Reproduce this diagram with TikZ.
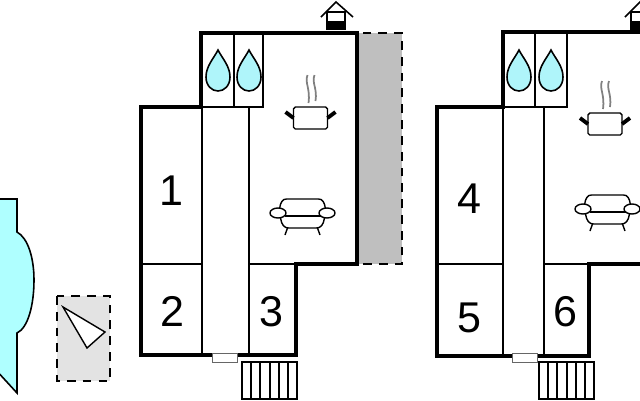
\documentclass[tikz,border=0pt]{standalone}
\usepackage{fontspec}
\setmainfont{Liberation Sans}

\tikzset{
    outerwall/.style={line width=2.2pt,miter limit=10},
    innerwall/.style={line width=0.85pt},
    roomlabel/.style={font=\fontsize{24.5}{28}\selectfont,inner sep=0pt},
    dashedarea/.style={line width=1.2pt,dash pattern=on 5pt off 4pt}
}
\definecolor{watercyan}{RGB}{175,255,255}
\definecolor{dropcyan}{RGB}{175,245,250}

% Water drop, given by its centre line
\newcommand{\drawdrop}[1]{
    \draw[line width=0.9pt,fill=dropcyan,shift={(#1,0)}] (0,50) .. controls (4,58) and (12,66) .. (12,77)
        .. controls (12,86) and (6,91) .. (0,91) .. controls (-6,91) and (-12,86) .. (-12,77)
        .. controls (-12,66) and (-4,58) .. (0,50) -- cycle;
}
% Pot with its steam
\newcommand{\drawpot}[1]{
    \begin{scope}[shift={(#1)}]
        \draw[line width=0.8pt,rounded corners=1pt] (-17,-11) rectangle (17,11);
        \draw[line width=2.2pt] (-25,-6) -- (-17,0);
        \draw[line width=2.2pt] (17,0) -- (25,-6);
        \draw[line width=1pt,gray] (-3,-43) .. controls (-6,-35) and (0,-30) .. (-2,-15);
        \draw[line width=1pt,gray] (4,-43) .. controls (1,-35) and (7,-30) .. (5,-17);
    \end{scope}
}
% Armchair
\newcommand{\drawsofa}[1]{
    \begin{scope}[shift={(#1)},line width=0.8pt]
        \draw (-23,-4) .. controls (-22,-11) and (-20,-14) .. (-16,-14) -- (16,-14) .. controls (20,-14) and (22,-11) .. (23,-4);
        \draw (-18,3) -- (18,3);
        \draw (-22,5) .. controls (-21,12) and (-18,15) .. (-14,15) -- (14,15) .. controls (18,15) and (21,12) .. (22,5);
        \draw (-15,15) -- (-17.5,22);
        \draw (15,15) -- (17.5,22);
        \draw[fill=white] (-24.5,0) ellipse [x radius=8,y radius=5];
        \draw[fill=white] (24.5,0) ellipse [x radius=8,y radius=5];
    \end{scope}
}
% Chimney
\newcommand{\drawchimney}[1]{
    \begin{scope}[shift={(#1,0)}]
        \draw[line width=0.8pt] (327,12) rectangle (345,29);
        \fill (327,21) rectangle (345,30);
        \draw[line width=0.9pt] (321,17) -- (336,2) -- (353,17);
    \end{scope}
}

\begin{document}
\begin{tikzpicture}[x=0.02cm,y=-0.02cm]
    \clip (0,0) rectangle (640,400);

    % Draw the pool
    \draw[line width=0.9pt,fill=watercyan] (-5,199) -- (17,199) -- (17,232)
        .. controls (28,238) and (34,258) .. (34,280) .. controls (34,305) and (28,328) .. (17,333)
        -- (17,393) -- (-5,369) -- cycle;

    % Draw the north arrow
    \draw[dashedarea,fill=black!11] (57,296) rectangle (110,381);
    \draw[line width=0.8pt,fill=white,line join=miter] (63,307) -- (105,332) -- (87,348) -- cycle;

    % Draw the terrace
    \draw[dashedarea,fill=black!25] (357,33) rectangle (402,264);

    % Draw the first floor plan
    \drawchimney{0}
    \draw[innerwall] (201,107) -- (263,107) -- (263,33);
    \draw[innerwall] (234,33) -- (234,107);
    \draw[innerwall] (202,107) -- (202,355);
    \draw[innerwall] (249,107) -- (249,355);
    \draw[innerwall] (141,264) -- (202,264);
    \draw[innerwall] (249,264) -- (296,264);
    \draw[outerwall] (141,107) -- (201,107) -- (201,33) -- (357,33) -- (357,264) -- (296,264) -- (296,355) -- (141,355) -- cycle;
    \draw[line width=0.5pt,draw=black!60,fill=white] (212,353) rectangle (237,362);

    % Draw the first stairs
    \draw[innerwall] (242,362) rectangle (297,399);
    \draw[innerwall] (251,362) -- (251,399);
    \draw[innerwall] (260,362) -- (260,399);
    \draw[innerwall] (270,362) -- (270,399);
    \draw[innerwall] (279,362) -- (279,399);
    \draw[innerwall] (288,362) -- (288,399);

    \drawdrop{218}
    \drawdrop{249}
    \drawpot{310.5,118}
    \drawsofa{302.5,213}

    \node[roomlabel] (room1) at (171,191) {1};
    \node[roomlabel] (room2) at (172,311) {2};
    \node[roomlabel] (room3) at (271,312) {3};

    % Draw the second floor plan
    \drawchimney{304}
    \draw[innerwall] (503,107) -- (567,107) -- (567,32);
    \draw[innerwall] (535,32) -- (535,107);
    \draw[innerwall] (503,107) -- (503,356);
    \draw[innerwall] (544,107) -- (544,356);
    \draw[innerwall] (437,264) -- (503,264);
    \draw[innerwall] (544,264) -- (589,264);
    \draw[outerwall] (437,107) -- (503,107) -- (503,32) -- (660,32) -- (660,264) -- (589,264) -- (589,356) -- (437,356) -- cycle;
    \draw[line width=0.5pt,draw=black!60,fill=white] (512,353) rectangle (537,362);

    % Draw the second stairs
    \draw[innerwall] (539,362) rectangle (594,399);
    \draw[innerwall] (548,362) -- (548,399);
    \draw[innerwall] (557,362) -- (557,399);
    \draw[innerwall] (567,362) -- (567,399);
    \draw[innerwall] (576,362) -- (576,399);
    \draw[innerwall] (585,362) -- (585,399);

    \drawdrop{519}
    \drawdrop{551}
    \drawpot{605,124}
    \drawsofa{607.5,209}

    \node[roomlabel] (room4) at (469,199) {4};
    \node[roomlabel] (room5) at (469,318) {5};
    \node[roomlabel] (room6) at (565,312) {6};
\end{tikzpicture}
\end{document}
